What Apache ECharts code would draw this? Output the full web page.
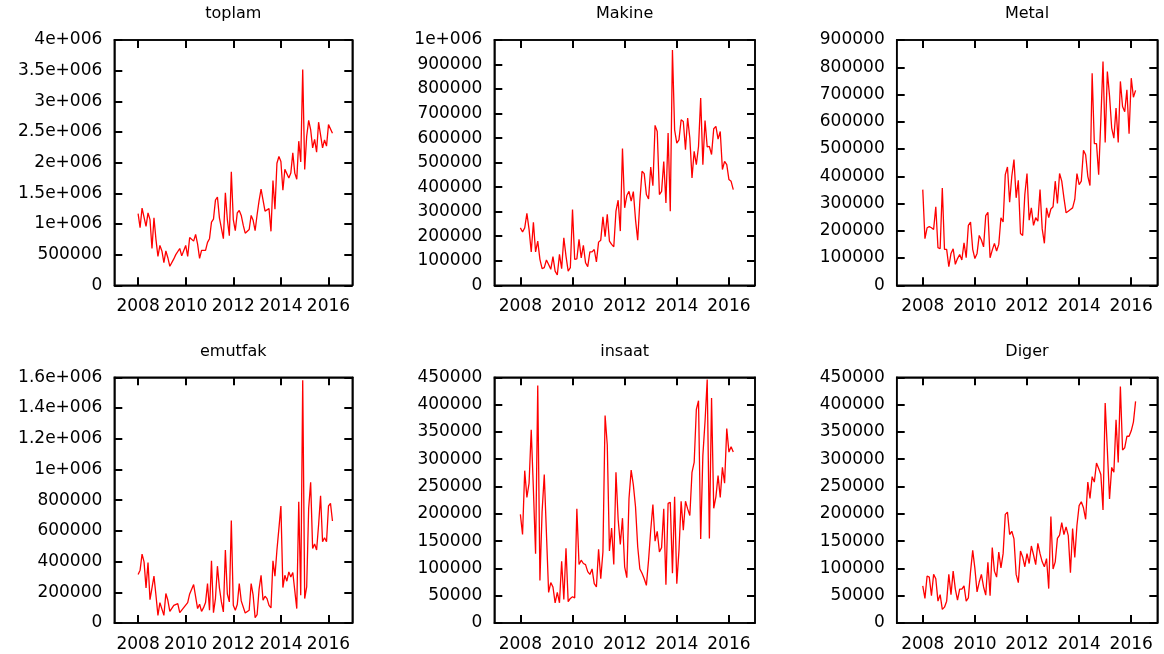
<!DOCTYPE html>
<html><head><meta charset="utf-8">
<script src="https://cdn.jsdelivr.net/npm/echarts@6/dist/echarts.min.js"></script>
<style>html,body{margin:0;padding:0;background:#fff}#c{width:1164px;height:654px}</style>
</head><body><div id="c"></div>
<script>
const startYear = 2008;
const xMin = 2007, xMax = 2017;
const xTicks = [2008, 2010, 2012, 2014, 2016];
const titles = ['toplam', 'Makine', 'Metal', 'emutfak', 'insaat', 'Diger'];

const toplam = [1170000,940000,1260000,1240000,960000,1180000,1070000,600000,1100000,750000,470000,650000,
560000,370000,560000,450000,310000,340000,430000,500000,510000,600000,480000,490000,
650000,470000,780000,750000,720000,830000,670000,440000,570000,590000,570000,700000,
760000,1030000,1080000,1390000,1440000,1100000,1100000,760000,1510000,1070000,810000,1850000,
1070000,890000,1180000,1220000,1140000,980000,850000,830000,910000,1140000,1060000,890000,
1150000,1380000,1570000,1550000,1210000,1180000,1250000,880000,1710000,1240000,1990000,2100000,
2020000,1550000,1890000,1860000,1750000,1830000,2160000,1830000,1730000,2350000,2010000,3520000,
1890000,2430000,2690000,2540000,2240000,2380000,2170000,2660000,2660000,2240000,2370000,2270000,
2620000,2590000,2480000];

const makine = [234000,217000,234000,293000,228000,136000,257000,136000,180000,106000,68000,72000,
103000,85000,65000,117000,58000,42000,126000,68000,194000,119000,58000,72000,
309000,106000,108000,187000,112000,163000,92000,76000,136000,136000,146000,95000,
176000,184000,279000,198000,289000,180000,167000,157000,302000,347000,221000,558000,
316000,366000,383000,343000,382000,268000,184000,343000,465000,455000,370000,352000,
482000,406000,652000,627000,370000,383000,505000,336000,621000,302000,959000,634000,
580000,593000,675000,668000,553000,682000,600000,438000,546000,492000,566000,763000,
492000,672000,564000,566000,533000,638000,648000,596000,627000,472000,505000,492000,
431000,424000,390000];

const metal = [351000,171000,211000,215000,211000,205000,288000,138000,134000,357000,132000,132000,
68000,117000,134000,77000,98000,113000,93000,156000,101000,220000,232000,132000,
98000,117000,183000,166000,141000,256000,268000,101000,129000,154000,126000,150000,
248000,232000,406000,434000,305000,400000,461000,321000,385000,190000,183000,333000,
410000,239000,284000,220000,248000,235000,351000,207000,154000,284000,248000,280000,
288000,382000,300000,410000,382000,321000,266000,272000,278000,284000,315000,410000,
369000,382000,495000,479000,400000,366000,778000,520000,520000,406000,607000,821000,
524000,784000,695000,577000,540000,650000,524000,748000,656000,637000,717000,556000,
760000,690000,715000];

const emutfak = [316000,344000,448000,398000,229000,394000,152000,152000,305000,181000,50000,133000,
120000,50000,192000,148000,76000,72000,115000,111000,126000,67000,61000,100000,
104000,133000,189000,189000,250000,255000,94000,122000,76000,100000,133000,257000,
83000,405000,67000,159000,370000,229000,137000,72000,475000,189000,137000,668000,
115000,83000,120000,257000,144000,144000,65000,72000,83000,257000,181000,35000,
54000,220000,311000,148000,174000,159000,115000,98000,405000,305000,475000,616000,
762000,231000,311000,272000,333000,300000,329000,322000,94000,790000,181000,1580000,
159000,235000,747000,916000,485000,514000,475000,638000,829000,529000,555000,529000,
762000,779000,664000];

const insaat = [199000,162000,279000,230000,256000,354000,244000,127000,435000,78000,204000,272000,
164000,56000,74000,66000,37000,56000,37000,113000,43000,137000,39000,45000,
48000,46000,209000,107000,115000,109000,107000,94000,89000,99000,72000,66000,
135000,81000,130000,380000,326000,132000,174000,107000,276000,190000,144000,192000,
103000,83000,228000,280000,253000,213000,140000,99000,91000,81000,69000,115000,
170000,217000,150000,168000,130000,138000,209000,70000,219000,221000,91000,231000,
72000,133000,223000,170000,223000,209000,197000,276000,294000,391000,407000,154000,
307000,369000,446000,155000,412000,210000,231000,270000,230000,285000,256000,356000,
313000,323000,313000];

const diger = [68000,45000,86000,84000,50000,89000,81000,40000,52000,25000,29000,40000,
89000,52000,95000,62000,42000,62000,62000,68000,40000,46000,94000,133000,
100000,57000,75000,89000,66000,51000,111000,50000,138000,95000,84000,130000,
101000,127000,199000,203000,162000,168000,154000,89000,74000,132000,121000,103000,
127000,109000,141000,125000,107000,146000,127000,112000,103000,118000,63000,195000,
99000,112000,155000,161000,184000,162000,176000,160000,92000,173000,120000,179000,
215000,222000,211000,190000,258000,228000,268000,258000,293000,283000,272000,207000,
403000,317000,227000,285000,276000,372000,294000,433000,317000,321000,342000,342000,
352000,368000,406000];

const yMaxes = [4000000, 1000000, 900000, 1600000, 450000, 450000];
const ySteps = [500000, 100000, 100000, 200000, 50000, 50000];
const allSeries = [toplam, makine, metal, emutfak, insaat, diger];

const FONT = 'DejaVu Sans';
const lefts = [114.3, 494.3, 896.7];
const widths = [238, 260.7, 260.6];
const tops = [40, 377.3];
const heights = [245.3, 245.7];
const titleTops = [6, 344];

function gfmt(v) {
  if (v === 0) return '0';
  if (Math.abs(v) < 1e6) return String(v);
  const e = Math.floor(Math.log10(v) + 1e-9);
  const m = +(v / Math.pow(10, e)).toFixed(5);
  return m + 'e+' + String(e).padStart(3, '0');
}

function tickOpt(custom) {
  const t = {show: true, inside: true, length: 8, lineStyle: {color: '#000', width: 2}};
  if (custom) t.customValues = custom.slice();
  return t;
}

const grid = [], xAxis = [], yAxis = [], series = [], title = [];
for (let i = 0; i < 6; i++) {
  const r = Math.floor(i / 3), c = i % 3;
  const W = widths[c], H = heights[r];
  grid.push({left: lefts[c], top: tops[r], width: W, height: H, show: true,
    borderColor: '#000', borderWidth: 1.5, backgroundColor: 'transparent'});
  title.push({text: titles[i], left: lefts[c] + W / 2, top: titleTops[r], textAlign: 'center', padding: 0,
    textStyle: {fontFamily: FONT, fontSize: 16, fontWeight: 'normal', color: '#000'}});

  for (const pos of ['bottom', 'top']) {
    xAxis.push({type: 'value', gridIndex: i, position: pos, min: xMin, max: xMax,
      splitLine: {show: false},
      axisLine: {show: true, onZero: false, lineStyle: {color: '#000', width: 1.5}},
      axisTick: tickOpt(xTicks),
      axisLabel: pos === 'bottom'
        ? {show: true, customValues: xTicks.slice(), margin: 13, fontFamily: FONT, fontSize: 17, color: '#000',
           formatter: v => String(v)}
        : {show: false}});
  }
  for (const pos of ['left', 'right']) {
    yAxis.push({type: 'value', gridIndex: i, position: pos, min: 0, max: yMaxes[i], interval: ySteps[i],
      splitLine: {show: false},
      axisLine: {show: true, onZero: false, lineStyle: {color: '#000', width: 1.5}},
      axisTick: tickOpt(null),
      axisLabel: pos === 'left'
        ? {show: true, margin: 12, fontFamily: FONT, fontSize: 17, color: '#000', formatter: gfmt}
        : {show: false}});
  }

  const pts = allSeries[i].map((v, k) => [startYear + k / 12, v]);
  series.push({type: 'line', xAxisIndex: 2 * i, yAxisIndex: 2 * i, showSymbol: false, symbol: 'none',
    lineStyle: {color: '#ff0000', width: 1.3}, silent: true, z: 3, data: pts});
  series.push({type: 'line', xAxisIndex: 2 * i + 1, yAxisIndex: 2 * i + 1, showSymbol: false, symbol: 'none',
    lineStyle: {opacity: 0}, silent: true, data: pts});
}

const chart = echarts.init(document.getElementById('c'), null, {renderer: 'canvas'});
chart.setOption({animation: false, backgroundColor: '#fff', title, grid, xAxis, yAxis, series});
</script>
</body></html>
